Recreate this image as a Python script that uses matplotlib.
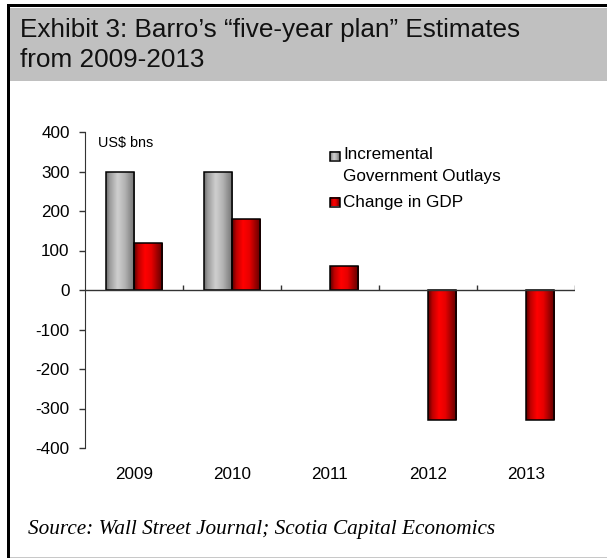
import numpy as np
import matplotlib
matplotlib.use("Agg")
import matplotlib.pyplot as plt
from matplotlib.patches import Rectangle
from matplotlib.colors import LinearSegmentedColormap

years = ["2009", "2010", "2011", "2012", "2013"]
outlays = [300, 300, 0, 0, 0]
gdp_change = [120, 180, 60, -330, -330]
series_names = ["Incremental\nGovernment Outlays", "Change in GDP"]
y_ticks = [-400, -300, -200, -100, 0, 100, 200, 300, 400]

W, H = 607, 558
SANS = ["Liberation Sans", "DejaVu Sans"]

gray_cmap = LinearSegmentedColormap.from_list(
    "bar_gray", [(0, "#6e6e6e"), (0.12, "#9a9a9a"), (0.4, "#cfcfcf"), (0.65, "#b4b4b4"), (1, "#727272")])
red_cmap = LinearSegmentedColormap.from_list(
    "bar_red", [(0, "#5a0000"), (0.15, "#c00000"), (0.38, "#ff0000"), (0.6, "#e80000"), (1, "#5c0000")])


def fx(x):
    return x / W


def fy(y):
    return 1 - y / H


def shade(ax, patch, cmap):
    x, y = patch.get_x(), patch.get_y()
    w, h = patch.get_width(), patch.get_height()
    if h == 0:
        patch.set_visible(False)
        return
    grad = np.linspace(0, 1, 64).reshape(1, -1)
    im = ax.imshow(grad, cmap=cmap, aspect="auto", extent=(x, x + w, y, y + h),
                   zorder=2, interpolation="bilinear")
    im.set_clip_path(patch)


fig = plt.figure(figsize=(W / 100, H / 100), dpi=100)

# frame and header band
fig.patches.append(Rectangle((fx(7), fy(6.5)), fx(600), 2 / H, transform=fig.transFigure,
                             facecolor="black", edgecolor="none"))
fig.patches.append(Rectangle((fx(7), fy(558)), 3 / W, 553 / H, transform=fig.transFigure,
                             facecolor="black", edgecolor="none"))
fig.patches.append(Rectangle((fx(10), fy(81)), fx(597), 73 / H, transform=fig.transFigure,
                             facecolor="#c0c0c0", edgecolor="none"))
fig.patches.append(Rectangle((fx(10), fy(558)), fx(597), 1.5 / H, transform=fig.transFigure,
                             facecolor="#c8c8c8", edgecolor="none"))

fig.text(fx(20), fy(37), "Exhibit 3: Barro\u2019s \u201cfive-year plan\u201d Estimates",
         family=SANS, fontsize=18.8, color="#111111", va="baseline")
fig.text(fx(20), fy(67), "from 2009-2013",
         family=SANS, fontsize=18.8, color="#111111", va="baseline")
fig.text(fx(28), fy(534), "Source: Wall Street Journal; Scotia Capital Economics",
         family=["Liberation Serif", "DejaVu Serif"], style="italic", fontsize=15.3,
         va="baseline")

ax = fig.add_axes([fx(85), fy(448), fx(490), 316 / H])
ax.set_facecolor("none")

x = np.arange(len(years))
bw = 0.286
b1 = ax.bar(x - bw / 2, outlays, bw, facecolor="none", edgecolor="black", linewidth=1.1, zorder=3)
b2 = ax.bar(x + bw / 2, gdp_change, bw, facecolor="none", edgecolor="black", linewidth=1.1, zorder=3)
for p in b1:
    shade(ax, p, gray_cmap)
for p in b2:
    shade(ax, p, red_cmap)

ax.axhline(0, color="#333333", linewidth=1.0, zorder=4)
bounds = np.arange(len(years)) + 0.5
ax.vlines(bounds, 0, 12, color="#333333", linewidth=1.0, zorder=4)

ax.set_xlim(-0.5, len(years) - 0.5)
ax.set_ylim(-400, 400)
ax.set_yticks(y_ticks)
ax.set_yticklabels([str(v) for v in y_ticks], family=SANS, fontsize=12.3)
ax.set_xticks(x)
ax.set_xticklabels(years, family=SANS, fontsize=12.3)
ax.tick_params(axis="y", direction="out", length=4, width=1, pad=7, color="#333333")
ax.tick_params(axis="x", length=0, pad=14)
for side in ["top", "right", "bottom"]:
    ax.spines[side].set_visible(False)
ax.spines["left"].set_color("#333333")

ax.text((98 - 85) / 490, 1 - (143 - 132) / 316, "US$ bns", transform=ax.transAxes,
        family=SANS, fontsize=10.4, va="center", ha="left")

# legend drawn by hand so the swatches keep the bar shading
leg_rows = [(156, series_names[0], gray_cmap), (202, series_names[1], red_cmap)]
for yc, label, cmap in leg_rows:
    ax_y = 1 - (yc - 132) / 316
    sx0 = (330 - 85) / 490
    sx1 = (340 - 85) / 490
    sh = 9 / 316
    sw = Rectangle((sx0, ax_y - sh / 2), sx1 - sx0, sh, transform=ax.transAxes,
                   facecolor="none", edgecolor="black", linewidth=1.1, zorder=6)
    ax.add_patch(sw)
    grad = np.linspace(0, 1, 32).reshape(1, -1)
    ax.imshow(grad, cmap=cmap, aspect="auto", transform=ax.transAxes,
              extent=(sx0, sx1, ax_y - sh / 2, ax_y + sh / 2), zorder=5)
    multi = "\n" in label
    ax.text((343 - 85) / 490, ax_y + (9 / 316 if multi else 0), label,
            transform=ax.transAxes, family=SANS, fontsize=12.3,
            va="top" if multi else "center", ha="left", linespacing=1.55)

ax.set_xlim(-0.5, len(years) - 0.5)
ax.set_ylim(-400, 400)

fig.savefig("out.png", dpi=100)
